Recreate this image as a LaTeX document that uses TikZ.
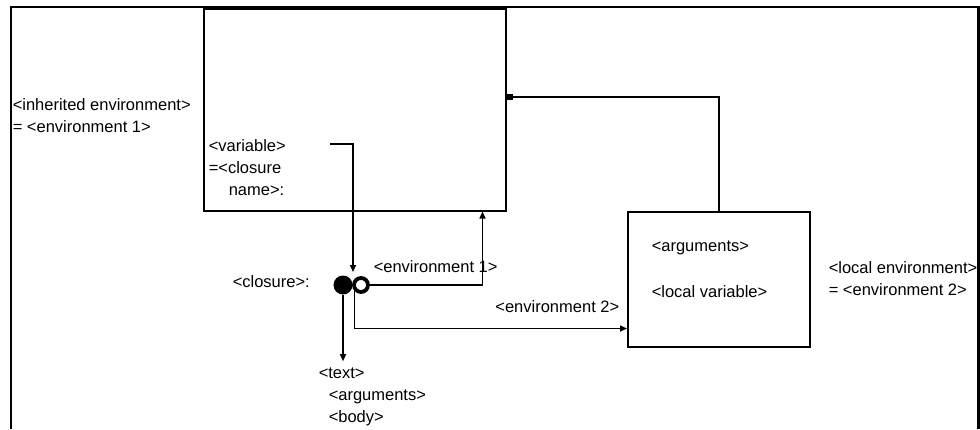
\documentclass[tikz,border=0pt]{standalone}
\usepackage{fontspec}
\setmainfont{Liberation Sans}
\usetikzlibrary{arrows.meta}
\begin{document}
\begin{tikzpicture}[
  x=1pt, y=-1pt,
  line width=1.5pt,
  every node/.style={font=\fontsize{16.5}{22}\selectfont, inner sep=0pt},
  envbox/.style={draw, anchor=north west},
  lbl/.style={anchor=west, align=left},
  conn/.style={-{Triangle[length=7pt,width=6pt]}},
  back/.style={-{Square[length=6pt,width=6pt]}}
]
\useasboundingbox (0,0) rectangle (980,429);
\draw[line width=2.5pt] (11,429) -- (11,7) -- (978.5,7) -- (978.5,429);
% environments
\node[envbox, minimum width=302, minimum height=202] (envA) at (203,8) {};
\node[envbox, minimum width=182, minimum height=135] (envB) at (627,211) {};
% closure
\node[circle, fill, minimum size=19] (cfull) at (343,285) {};
\node[circle, draw, fill=white, line width=3.8pt, minimum size=14] (copen) at (361,285) {};
% labels
\node[lbl] (inh) at (12,116) {<inherited environment>\\= <environment 1>};
\node[lbl] (var) at (208,168) {<variable>\\=<closure\\\hspace*{20pt}name>:};
\node[lbl] (clos) at (232,282) {<closure>:};
\node[lbl] (e1) at (373,267) {<environment 1>};
\node[anchor=east] (e2) at (620,307) {<environment 2>};
\node[lbl] (args) at (651,248) {<arguments>};
\node[lbl] (lvar) at (651,292) {<local variable>};
\node[lbl] (loc) at (828,279) {<local environment>\\= <environment 2>};
\node[lbl] (txt) at (318,397) {<text>\\\hspace*{10pt}<arguments>\\\hspace*{10pt}<body>};
% connectors
\coordinate (vend) at (330,144);
\coordinate (ctop) at (353,272);
\draw[conn] (vend) -| (ctop);
\draw[conn] (copen.east) -| ([xshift=-24pt]envA.south east);
\draw[conn] (copen.south west) |- ([yshift=19pt]envB.south west);
\draw[conn] (cfull.south) -- ([yshift=6pt]txt.north -| cfull);
\draw[back] (envB.north) |- ([yshift=-89pt]envA.north east);
\end{tikzpicture}
\end{document}
